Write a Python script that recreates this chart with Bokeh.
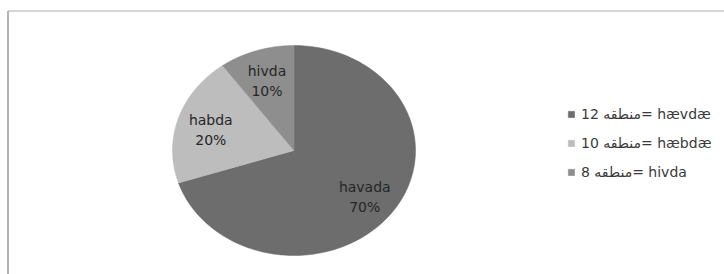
import numpy as np
from bokeh.plotting import figure
from bokeh.models import Range1d, Legend, LegendItem, ColumnDataSource
from bokeh.core.properties import value
from bokeh.embed import file_html
from bokeh.resources import INLINE

# ---- data ----
categories = ["havada", "habda", "hivda"]
percents = [70, 20, 10]
legend_labels = ["12 منطقه= hævdæ", "10 منطقه= hæbdæ", "8 منطقه= hivda"]
colors = ["#6d6d6d", "#bdbdbd", "#8e8e8e"]

# ---- layout ----
W, H = 724, 274
p = figure(width=W, height=H, output_backend="svg", toolbar_location=None,
           x_range=Range1d(0, 724), y_range=Range1d(274, 0),
           min_border_left=0, min_border_right=0, min_border_top=0, min_border_bottom=0)
p.axis.visible = False
p.grid.visible = False
p.outline_line_color = None
p.background_fill_color = "white"

# chart-area border (top and left edges)
p.segment(x0=[7.5, 7.5], y0=[10.5, 10.5], x1=[724, 7.5], y1=[10.5, 274],
          line_color=["#c8c8c8", "#9a9a9a"], line_width=1.5)

cx, cy, rx, ry = 293.5, 150.0, 121.5, 105.0
total = float(sum(percents))
fracs = np.array(percents) / total
starts = np.concatenate([[0], np.cumsum(fracs)[:-1]]) * 2 * np.pi
ends = np.cumsum(fracs) * 2 * np.pi

renderers = []
for i, cat in enumerate(categories):
    th = np.linspace(starts[i], ends[i], 200)
    xs = np.concatenate([[cx], cx + rx * np.sin(th), [cx]])
    ys = np.concatenate([[cy], cy - ry * np.cos(th), [cy]])
    r = p.patch(xs, ys, fill_color=colors[i], line_color=colors[i], line_width=0.5)
    renderers.append(r)

# labels
mids = (starts + ends) / 2
f = 0.72
lx = cx + rx * f * np.sin(mids)
ly = cy - ry * f * np.cos(mids)
src = ColumnDataSource(dict(
    x=lx, y1=ly - 7.5, y2=ly + 12.5,
    name=categories, pct=[f"{v}%" for v in percents]))
p.text(x="x", y="y1", text="name", source=src, text_align="center", text_baseline="middle",
       text_font=value("DejaVu Sans"), text_font_size="14px", text_color="#262626")
p.text(x="x", y="y2", text="pct", source=src, text_align="center", text_baseline="middle",
       text_font=value("DejaVu Sans"), text_font_size="14px", text_color="#262626")

legend = Legend(items=[LegendItem(label=legend_labels[i], renderers=[renderers[i]])
                       for i in range(len(categories))],
                location=(567, 94), orientation="vertical",
                glyph_width=8, glyph_height=8, label_height=17, spacing=12,
                label_standoff=6, padding=0, margin=0,
                border_line_color=None, background_fill_alpha=0,
                label_text_font="DejaVu Sans", label_text_font_size="14px",
                label_text_color="#3a3a3a")
p.add_layout(legend, "center")

open("out.html", "w").write(file_html(p, INLINE))
